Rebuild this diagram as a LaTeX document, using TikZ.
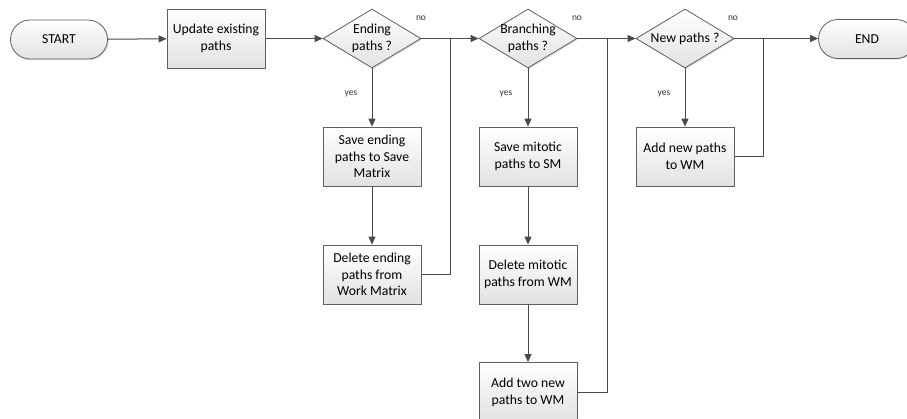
\documentclass[tikz,border=0pt]{standalone}
\usepackage{fontspec}
\setmainfont{Carlito}
\usetikzlibrary{
  shapes.geometric,shapes.misc,
  arrows.meta,shadows
}
\definecolor{boxline}{HTML}{5F5F5F}
\definecolor{boxfill}{HTML}{E2E2E2}
\definecolor{conn}{HTML}{4A4A4A}
\tikzset{
  flowtext/.style={font=\fontsize{13.7}{16.7}\selectfont,align=center},
  flowshade/.style={draw=boxline,line width=0.8pt,top color=white,bottom color=boxfill,
    drop shadow={shadow xshift=1.2pt,shadow yshift=-1.2pt,opacity=0.25}},
  procbox/.style={flowshade,flowtext,rectangle,minimum width=98pt,minimum height=59pt,inner sep=1pt},
  termbox/.style={flowshade,flowtext,rounded rectangle,minimum width=99pt,minimum height=39pt,inner sep=1pt},
  decbox/.style={flowshade,diamond,minimum width=98pt,minimum height=59pt,inner sep=0pt},
  answer/.style={font=\fontsize{9.5}{11}\selectfont,text=black!80},
  flow/.style={draw=conn,line width=1pt,-{Triangle[length=8pt,width=7pt]}},
  backline/.style={draw=conn,line width=1pt}
}
\begin{document}
\begin{tikzpicture}[x=1pt,y=1pt]
\clip (0,0) rectangle (907,-418);

% main row
\node[termbox] (start) at (59,-39.5) {START};
\node[procbox] (update) at (216,-38.5) {Update existing\\paths};
\node[decbox,label={[flowtext]center:Ending\\paths ?}] (ending) at (372,-38.5) {};
\node[decbox,label={[flowtext]center:Branching\\paths ?}] (branching) at (528,-38.5) {};
\node[decbox,label={[flowtext]center:New paths ?}] (newpaths) at (685,-38.5) {};
\node[termbox] (finish) at (867,-39) {END};

% yes branches
\node[procbox] (saveend) at (372,-156.5) {Save ending\\paths to Save\\Matrix};
\node[procbox] (delend) at (372,-274.5) {Delete ending\\paths from\\Work Matrix};
\node[procbox] (savemit) at (528,-156.5) {Save mitotic\\paths to SM};
\node[procbox] (delmit) at (528,-274.5) {Delete mitotic\\paths from WM};
\node[procbox] (addtwo) at (528,-392) {Add two new\\paths to WM};
\node[procbox] (addnew) at (685,-156.5) {Add new paths\\to WM};

% answers
\node[answer] (endno) at (421,-18) {no};
\node[answer] (endyes) at (351,-94) {yes};
\node[answer] (branchno) at (577,-18) {no};
\node[answer] (branchyes) at (506,-94) {yes};
\node[answer] (newno) at (733,-18) {no};
\node[answer] (newyes) at (664,-94) {yes};

% junctions
\coordinate (j1) at (450,-38.5);
\coordinate (j2) at (607,-38.5);
\coordinate (j3) at (763,-38.5);

\draw[flow] (start) -- (update);
\draw[flow] (update) -- (ending);
\draw[flow] (ending) -- (branching);
\draw[flow] (branching) -- (newpaths);
\draw[flow] (newpaths) -- (finish.west|-newpaths);

\draw[flow] (ending) -- (saveend);
\draw[flow] (saveend) -- (delend);
\draw[flow] (branching) -- (savemit);
\draw[flow] (savemit) -- (delmit);
\draw[flow] (delmit) -- (addtwo);
\draw[flow] (newpaths) -- (addnew);

\draw[backline] (delend.east) -| (j1);
\draw[backline] (addtwo.east) -| (j2);
\draw[backline] (addnew.east) -| (j3);
\end{tikzpicture}
\end{document}
